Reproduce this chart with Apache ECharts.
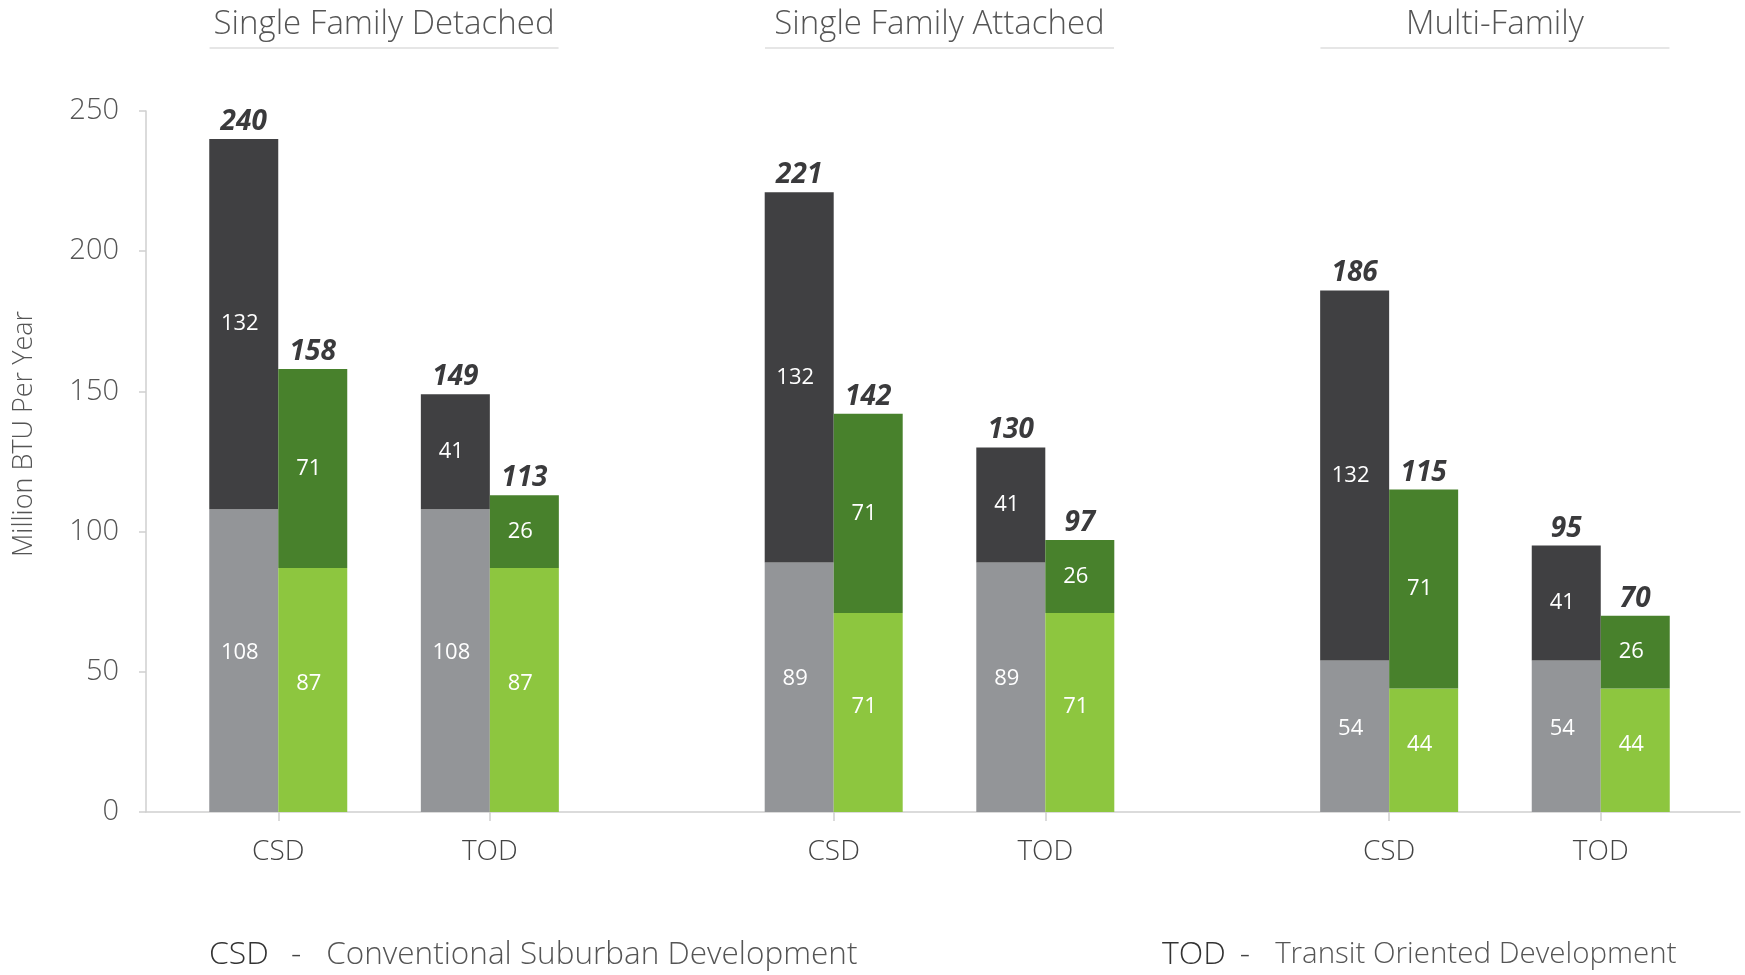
<!DOCTYPE html>
<html><head><meta charset="utf-8">
<script src="https://cdn.jsdelivr.net/npm/echarts@6/dist/echarts.min.js"></script>
<style>html,body{margin:0;padding:0;background:#fff}#c{width:1745px;height:975px}</style>
</head><body><div id="c"></div>
<script>
// ---- data ----
const groups = ['Single Family Detached', 'Single Family Attached', 'Multi-Family'];
const scenarios = ['CSD', 'TOD'];
// order: SFD-CSD, SFD-TOD, SFA-CSD, SFA-TOD, MF-CSD, MF-TOD
const grayBase   = [108, 108, 89, 89, 54, 54];
const grayTop    = [132, 41, 132, 41, 132, 41];
const greenBase  = [87, 87, 71, 71, 44, 44];
const greenTop   = [71, 26, 71, 26, 71, 26];
const grayTotal  = [240, 149, 221, 130, 186, 95];
const greenTotal = [158, 113, 142, 97, 115, 70];
const yTicks = [0, 50, 100, 150, 200, 250];
const yTitle = 'Million BTU Per Year';
const legendItems = [['CSD', 'Conventional Suburban Development'], ['TOD', 'Transit Oriented Development']];

// ---- layout (slots on the category axis) ----
const SLOTS = 61, FIRST = 5, PAIR_STEP = 8, GROUP_STEP = 21;
const slotOf = [];
groups.forEach((g, gi) => scenarios.forEach((s, si) => slotOf.push(FIRST + gi * GROUP_STEP + si * PAIR_STEP)));
const cats = Array.from({length: SLOTS}, (_, i) => 's' + i);
const bottomLabels = Array(SLOTS).fill('');
slotOf.forEach((p, i) => bottomLabels[p] = scenarios[i % scenarios.length]);
const topLabels = Array(SLOTS).fill('');
groups.forEach((g, gi) => topLabels[FIRST + gi * GROUP_STEP + PAIR_STEP / 2] = g);
const slotIndex = {};
slotOf.forEach((p, i) => slotIndex[p] = i);
function spread(arr) { const out = Array(SLOTS).fill(null); slotOf.forEach((p, i) => out[p] = arr[i]); return out; }

const F = "'Open Sans', 'Noto Sans', sans-serif";
const C = {dark: '#404042', gray: '#939598', dgreen: '#48812c', lgreen: '#8dc63f'};

function segSeries(name, data, stack, color, offY) {
  return {
    type: 'bar', name, stack, data: spread(data), barWidth: 69, barGap: '0%',
    itemStyle: {color}, emphasis: {disabled: true},
    label: {show: true, position: 'inside', color: '#fff', fontSize: 22, fontFamily: F, offset: [-4, offY]}
  };
}
function totalSeries(stack, totals) {
  return {
    type: 'bar', stack, data: spread(totals.map(() => 0)), barWidth: 69, barGap: '0%',
    itemStyle: {color: 'transparent'}, emphasis: {disabled: true},
    label: {show: true, position: 'top', distance: 3, color: '#3a3a3c', fontSize: 28,
      fontWeight: 'bold', fontStyle: 'italic', fontFamily: F,
      formatter: p => String(totals[slotIndex[p.dataIndex]])}
  };
}

const chart = echarts.init(document.getElementById('c'));
chart.setOption({
  animation: false,
  backgroundColor: '#fff',
  grid: [
    {left: 146, right: 12, top: 111, bottom: 163},
    {left: 146, right: 5, top: 111, bottom: 163}
  ],
  xAxis: [
    {type: 'category', gridIndex: 0, data: cats, boundaryGap: false,
      axisLine: {show: false},
      axisTick: {show: true, alignWithLabel: true, length: 9, lineStyle: {color: '#cfcfcf', width: 1.5},
        interval: (i) => bottomLabels[i] !== ''},
      axisLabel: {interval: (i) => bottomLabels[i] !== '', formatter: (v, i) => bottomLabels[i],
        margin: 26, fontSize: 28, color: '#444', fontFamily: F, fontWeight: 300},
      splitLine: {show: false}},
    {type: 'category', gridIndex: 0, position: 'top', data: cats, boundaryGap: false,
      axisLine: {show: false}, axisTick: {show: false}, splitLine: {show: false},
      axisLabel: {interval: (i) => topLabels[i] !== '', margin: 62,
        formatter: (v, i) => '{t|' + topLabels[i] + '}\n{u| }',
        rich: {
          t: {fontSize: 33, lineHeight: 44, color: '#555', fontFamily: F, fontWeight: 300},
          u: {width: 349, height: 2, lineHeight: 2, fontSize: 1, backgroundColor: '#e6e6e6'}
        }}},
    {type: 'value', gridIndex: 1, min: 0, max: 1,
      axisLine: {show: true, lineStyle: {color: '#cfcfcf', width: 1.5}},
      axisTick: {show: false}, axisLabel: {show: false}, splitLine: {show: false}}
  ],
  yAxis: [
    {type: 'value', gridIndex: 0, min: yTicks[0], max: yTicks[yTicks.length - 1], interval: yTicks[1] - yTicks[0],
      axisLine: {show: true, lineStyle: {color: '#cfcfcf', width: 1.5}},
      axisTick: {show: true, length: 7, lineStyle: {color: '#cfcfcf', width: 1.5}},
      axisLabel: {margin: 27, fontSize: 29, color: '#555', fontFamily: F, fontWeight: 300},
      splitLine: {show: false}},
    {type: 'value', gridIndex: 1, min: 0, max: 250, show: false}
  ],
  graphic: [{
    type: 'text', x: 24, y: 434, rotation: Math.PI / 2,
    style: {text: yTitle, fontSize: 27, fontFamily: F, fontWeight: 300, fill: '#555',
      align: 'center', verticalAlign: 'middle', textAlign: 'center', textVerticalAlign: 'middle'}
  }],
  title: legendItems.map((it, i) => {
    const fs = i === 0 ? 31.5 : 29.5;
    return {
      left: i === 0 ? 209 : 1162, top: 935, padding: 0,
      text: '{k|' + it[0] + '}{d|-}{v|' + it[1] + '}',
      textStyle: {rich: {
        k: {fontSize: 32, lineHeight: 40, color: '#333', fontFamily: F, fontWeight: 300},
        d: {fontSize: 32, lineHeight: 40, color: '#444', fontFamily: F, fontWeight: 300, padding: [0, 25, 0, i === 0 ? 22 : 14]},
        v: {fontSize: fs, lineHeight: 40, color: '#555', fontFamily: F, fontWeight: 300}
      }}
    };
  }),
  series: [
    segSeries('gray', grayBase, 'left', C.gray, -8),
    segSeries('dark', grayTop, 'left', C.dark, 0),
    totalSeries('left', grayTotal),
    segSeries('lgreen', greenBase, 'right', C.lgreen, -6),
    segSeries('dgreen', greenTop, 'right', C.dgreen, 0),
    totalSeries('right', greenTotal)
  ]
});
</script></body></html>
